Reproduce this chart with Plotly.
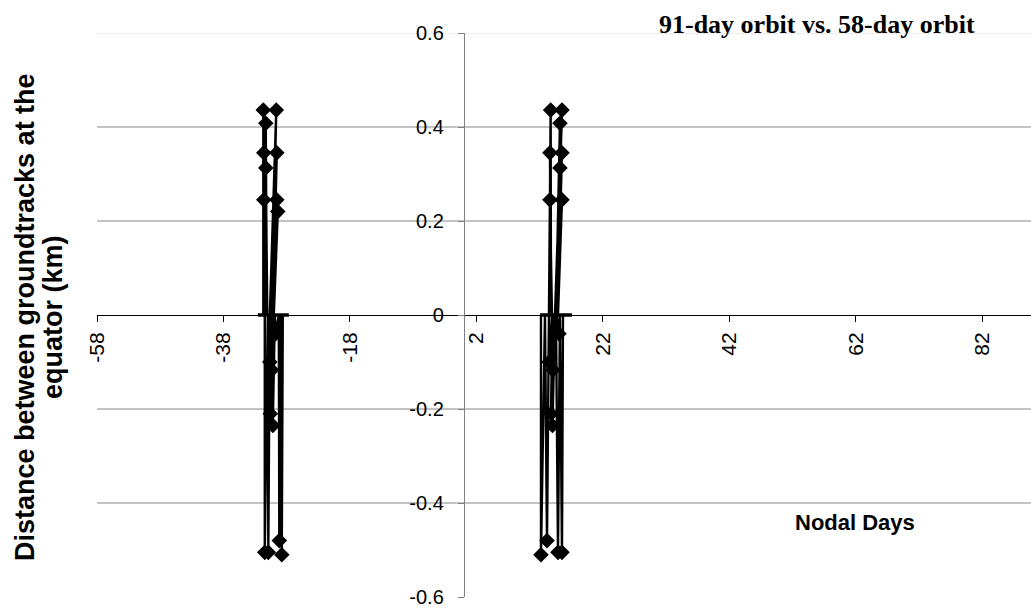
import plotly.graph_objects as go

# ---- data ----
# Each cluster is a zig-zag: zero line (base x) -> value (tip x, tip y) -> zero line ...
orbit91_bar_x = [-32.57, -27.67]
orbit91_base_x = [-31.70, -31.47, -31.15, -31.31, -31.07, -31.47, -30.99, -30.67, -30.36, -30.20,
                  -30.44, -30.04, -30.36, -30.52, -30.04, -29.88, -29.25, -28.93, -28.62]
orbit91_tip_x = [-31.70, -31.31, -31.62, -31.31, -31.62, -31.47, -30.91, -29.65, -29.57, -29.57,
                 -29.41, -30.67, -30.36, -30.59, -30.20, -29.72, -29.17, -28.78]
orbit91_tip_y = [0.436, 0.408, 0.345, 0.313, 0.245, -0.505, -0.505, 0.436, 0.345, 0.245,
                 0.22, -0.10, -0.117, -0.21, -0.235, -0.04, -0.48, -0.51]

orbit58_bar_x = [12.05, 17.11]
orbit58_base_x = [12.21, 12.84, 13.47, 13.79, 13.87, 13.95, 14.10, 14.03, 14.26, 14.42,
                  14.58, 14.74, 14.82, 14.90, 14.74, 14.58, 15.21, 15.69]
orbit58_tip_x = [12.21, 13.16, 13.74, 13.63, 13.63, 13.47, 13.79, 14.10, 14.03, 15.53,
                 15.21, 15.53, 15.21, 15.53, 15.05, 14.90, 15.53]
orbit58_tip_y = [-0.51, -0.48, 0.436, 0.345, 0.245, -0.10, -0.21, -0.117, -0.235, 0.436,
                 0.408, 0.345, 0.313, 0.245, -0.04, -0.505, -0.505]

x_ticks = [-58, -38, -18, 2, 22, 42, 62, 82]
y_ticks = [-0.6, -0.4, -0.2, 0, 0.2, 0.4, 0.6]
y_tick_text = ["-0.6", "-0.4", "-0.2", "0", "0.2", "0.4", "0.6"]
grid_values = [-0.4, -0.2, 0.2, 0.4]
x_range = [-58, 89.7]
y_range = [-0.6, 0.6]

title_text = "91-day orbit vs. 58-day orbit"
y_title_lines = ["Distance between groundtracks at the", "equator (km)"]
x_title = "Nodal Days"


def zigzag(base_x, tip_x, tip_y):
    px, py, ps = [base_x[0]], [0.0], [0]
    for i, (t, v) in enumerate(zip(tip_x, tip_y)):
        px += [t, base_x[i + 1]]
        py += [v, 0.0]
        ps += [12, 0]
    return px, py, ps


fig = go.Figure()
for bar, bx, tx, ty, name in [(orbit91_bar_x, orbit91_base_x, orbit91_tip_x, orbit91_tip_y, "91-day"),
                              (orbit58_bar_x, orbit58_base_x, orbit58_tip_x, orbit58_tip_y, "58-day")]:
    fig.add_trace(go.Scatter(
        x=bar, y=[0.0] * len(bar), mode="lines", line=dict(color="black", width=3.5),
        showlegend=False, hoverinfo="skip", cliponaxis=False,
    ))
    px, py, ps = zigzag(bx, tx, ty)
    fig.add_trace(go.Scatter(
        x=px, y=py, mode="lines+markers", name=name,
        line=dict(color="black", width=2.4),
        marker=dict(symbol="diamond", color="black", size=ps, opacity=1,
                    line=dict(color="black", width=0)),
        showlegend=False, cliponaxis=False,
    ))

shapes = []
for v in grid_values:
    shapes.append(dict(type="line", xref="paper", x0=0, x1=1, yref="y", y0=v, y1=v,
                       line=dict(color="#868686", width=1), layer="below"))
shapes.append(dict(type="line", xref="paper", x0=0, x1=1, yref="y", y0=y_range[1], y1=y_range[1],
                   line=dict(color="#dcdcdc", width=1), layer="below"))

yaxis_pos = (0 - x_range[0]) / (x_range[1] - x_range[0])
xaxis_pos = (0 - y_range[0]) / (y_range[1] - y_range[0])

W, H = 1031, 613
L, R, T, B = 97, 0, 33, 16
PW, PH = W - L - R, H - T - B


def paper_x(px):
    return (px - L) / PW


def paper_y(py):
    return 1 - (py - T) / PH


annotations = [
    dict(text="<b>" + title_text + "</b>", x=paper_x(817), y=paper_y(25),
         xref="paper", yref="paper", xanchor="center", yanchor="middle", showarrow=False,
         font=dict(family="Liberation Serif, Times New Roman, serif", size=26, color="black")),
    dict(text="<b>" + x_title + "</b>", x=paper_x(855), y=paper_y(522),
         xref="paper", yref="paper", xanchor="center", yanchor="middle", showarrow=False,
         font=dict(size=22)),
]
for line_text, cx in zip(y_title_lines, [25, 53]):
    annotations.append(dict(text="<b>" + line_text + "</b>", x=paper_x(cx), y=paper_y(317),
                            xref="paper", yref="paper", xanchor="center", yanchor="middle",
                            showarrow=False, textangle=-90, font=dict(size=27)))

fig.update_layout(
    width=W, height=H,
    margin=dict(l=L, r=R, t=T, b=B),
    paper_bgcolor="white", plot_bgcolor="white",
    font=dict(family="Arial, Liberation Sans, sans-serif", size=20, color="black"),
    shapes=shapes,
    xaxis=dict(range=x_range, tickvals=x_ticks, ticktext=[str(t) for t in x_ticks],
               tickangle=-90, ticks="outside", ticklen=6, tickcolor="black",
               tickfont=dict(size=21), ticklabelstandoff=2,
               showline=True, linecolor="black", linewidth=1,
               showgrid=False, zeroline=False, anchor="free", position=xaxis_pos),
    yaxis=dict(range=y_range, tickvals=y_ticks, ticktext=y_tick_text,
               ticks="outside", ticklen=6, tickcolor="#808080",
               tickfont=dict(size=20), ticklabelstandoff=10,
               showline=True, linecolor="#808080", linewidth=1,
               showgrid=False, zeroline=False, anchor="free", position=yaxis_pos),
    annotations=annotations,
)

fig.write_html("out.html")
